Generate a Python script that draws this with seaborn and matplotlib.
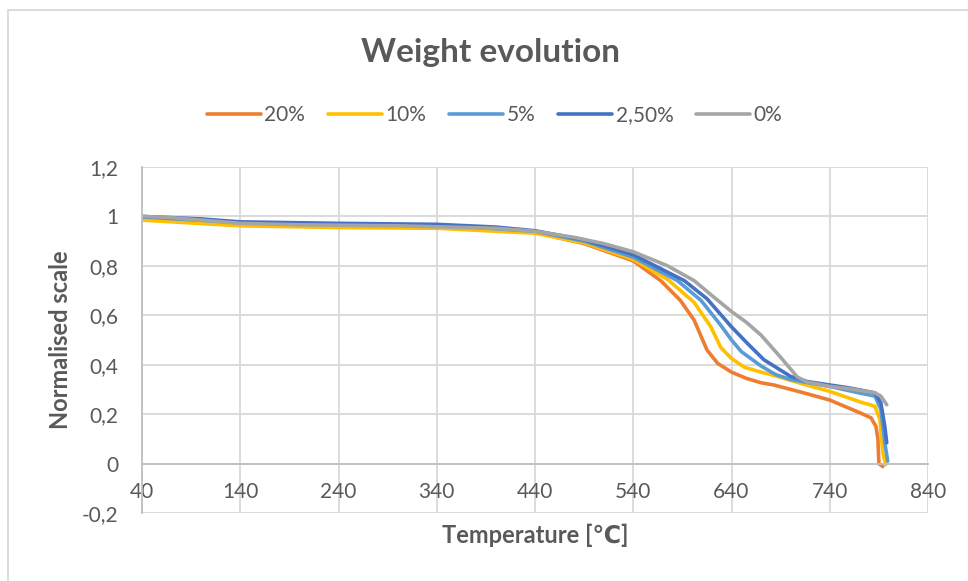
import pandas as pd
import matplotlib.pyplot as plt
import seaborn as sns
from matplotlib.lines import Line2D
from matplotlib.patches import Rectangle

# series (temperature in °C, normalised weight)
t_20 = [40, 100, 140, 240, 340, 400, 440, 490, 540, 568, 588, 602, 609, 615, 626, 640, 655, 670, 683, 710, 740, 771, 782, 787, 789, 790, 794]
w_20 = [0.99, 0.98, 0.965, 0.958, 0.955, 0.948, 0.935, 0.89, 0.82, 0.74, 0.66, 0.58, 0.515, 0.46, 0.405, 0.37, 0.345, 0.327, 0.318, 0.29, 0.257, 0.205, 0.185, 0.15, 0.10, 0.0, -0.012]

t_10 = [40, 140, 240, 340, 440, 490, 540, 575, 602, 619, 629, 640, 653, 670, 683, 710, 740, 759, 772, 786, 791, 794, 797]
w_10 = [0.985, 0.962, 0.955, 0.952, 0.932, 0.893, 0.826, 0.745, 0.652, 0.553, 0.47, 0.425, 0.39, 0.37, 0.357, 0.325, 0.292, 0.266, 0.248, 0.232, 0.178, 0.043, -0.004]

t_5 = [40, 140, 240, 340, 440, 490, 540, 585, 609, 629, 640, 650, 670, 685, 700, 740, 771, 786, 792, 796, 799]
w_5 = [0.998, 0.975, 0.968, 0.965, 0.94, 0.9, 0.835, 0.74, 0.66, 0.56, 0.5, 0.453, 0.395, 0.36, 0.34, 0.312, 0.285, 0.273, 0.219, 0.084, 0.01]

t_25 = [40, 100, 140, 240, 340, 400, 440, 490, 540, 592, 615, 640, 656, 673, 700, 717, 740, 760, 786, 792, 796, 798]
w_25 = [1.0, 0.99, 0.978, 0.972, 0.968, 0.957, 0.942, 0.905, 0.845, 0.74, 0.667, 0.553, 0.487, 0.42, 0.353, 0.332, 0.318, 0.306, 0.286, 0.246, 0.151, 0.084]

t_0 = [40, 70, 100, 140, 200, 300, 400, 440, 480, 510, 540, 575, 602, 620, 640, 655, 670, 690, 707, 717, 740, 760, 786, 792, 798]
w_0 = [1.0, 0.995, 0.985, 0.972, 0.966, 0.962, 0.952, 0.94, 0.915, 0.89, 0.857, 0.8, 0.74, 0.68, 0.615, 0.572, 0.52, 0.43, 0.35, 0.33, 0.312, 0.303, 0.286, 0.273, 0.238]

labels = ['20%', '10%', '5%', '2,50%', '0%']
colors = ['#ED7D31', '#FFC000', '#5B9BD5', '#4472C4', '#A5A5A5']

y_ticks = [-0.2, 0, 0.2, 0.4, 0.6, 0.8, 1, 1.2]
y_ticklabels = ['-0,2', '0', '0,2', '0,4', '0,6', '0,8', '1', '1,2']
x_ticks = [40, 140, 240, 340, 440, 540, 640, 740, 840]

frames = []
for lab, t, w in zip(labels, [t_20, t_10, t_5, t_25, t_0], [w_20, w_10, w_5, w_25, w_0]):
    frames.append(pd.DataFrame({'Temperature': t, 'Weight': w, 'Series': lab}))
df = pd.concat(frames, ignore_index=True)

sns.set_style("white")
plt.rcParams['font.family'] = ['Lato', 'DejaVu Sans']
text_color = '#595959'
grid_color = '#d9d9d9'

fig = plt.figure(figsize=(9.68, 5.81), dpi=100)
ax = fig.add_axes([0.1467, 0.117, 0.812, 0.5956])

sns.lineplot(data=df, x='Temperature', y='Weight', hue='Series', hue_order=labels,
             palette=colors, linewidth=2.6, estimator=None, sort=False, legend=False, ax=ax)

ax.set_xlim(40, 840)
ax.set_ylim(-0.2, 1.2)
ax.set_xticks(x_ticks)
ax.set_xticklabels([str(x) for x in x_ticks])
ax.set_yticks(y_ticks)
ax.set_yticklabels(y_ticklabels)
ax.grid(True, color=grid_color, linewidth=1.3)
ax.set_axisbelow(True)

for side in ['top', 'right']:
    ax.spines[side].set_visible(False)
ax.spines['bottom'].set_position(('data', 0))
ax.spines['bottom'].set_color('#bfbfbf')
ax.spines['bottom'].set_linewidth(1.3)
ax.spines['left'].set_color('#bfbfbf')
ax.spines['left'].set_linewidth(1.3)

ax.tick_params(axis='x', length=0, pad=13, labelsize=15, labelcolor=text_color)
ax.tick_params(axis='y', length=0, pad=17, labelsize=15, labelcolor=text_color)

ax.set_xlabel('Temperature [℃]', fontsize=17, fontweight='bold', color=text_color)
ax.xaxis.set_label_coords(0.5, -0.03)
ax.set_ylabel('Normalised scale', fontsize=17, fontweight='bold', color=text_color)
ax.yaxis.set_label_coords(-0.089, 0.5)

fig.text(0.507, 0.91, 'Weight evolution', ha='center', va='center',
         fontsize=24, fontweight='bold', color=text_color)

handles = [Line2D([0], [0], color=c, linewidth=2.6) for c in colors]
fig.legend(handles, labels, loc='center', bbox_to_anchor=(0.511, 0.802), ncol=5,
           frameon=False, fontsize=15, handlelength=2.6, handletextpad=0.15,
           columnspacing=1.1, labelcolor=text_color)

# light chart border like the spreadsheet frame
fig.patches.append(Rectangle((8 / 968, -0.1), 1.2, 1.1 - 10 / 581, transform=fig.transFigure,
                             fill=False, edgecolor=grid_color, linewidth=1.3))

fig.savefig('out.png', dpi=100)
